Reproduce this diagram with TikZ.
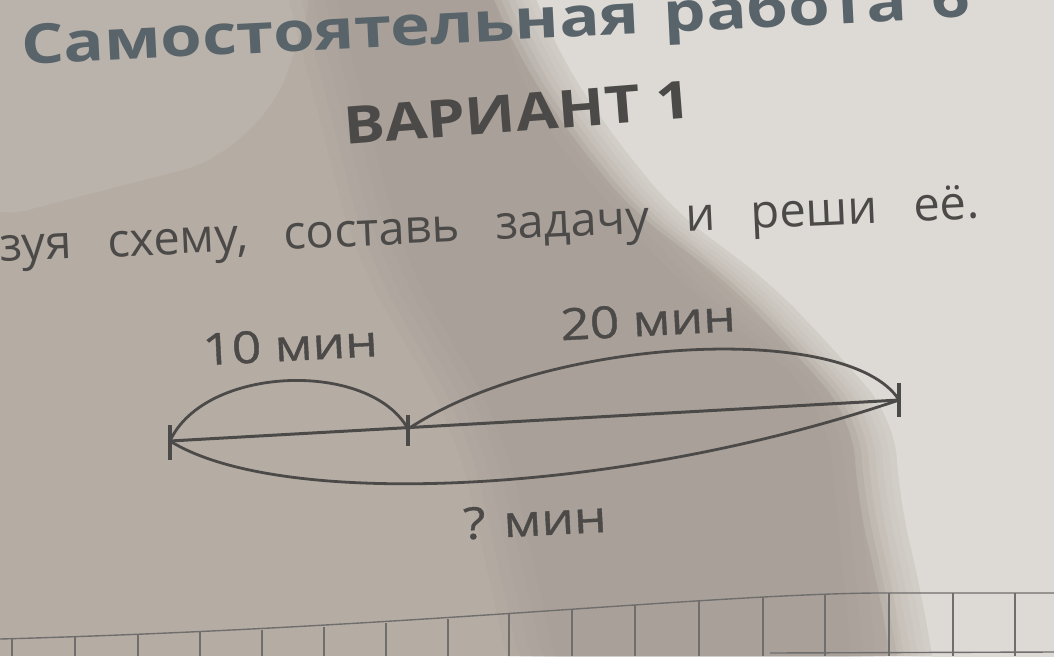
\documentclass[tikz,border=0pt]{standalone}
\usepackage{fontspec}
\setmainfont{Open Sans}
\newfontfamily\labelfont[FakeBold=0.8]{Open Sans}
\newcommand\widewords{\spaceskip=36pt plus 2pt\relax}
\newcommand\titlewords{\spaceskip=20pt plus 2pt\relax}
\newcommand\brightside{(515,-50) -- (560,55) -- (605,125) -- (672,209) -- (773,285) -- (840,356) -- (894,418) -- (900,502) -- (920,586) -- (940,700) -- (1100,700) -- (1100,-50) -- cycle}
\newcommand\shadeband{(300,-50) -- (500,-50) -- (560,120) -- (700,280) -- (850,400) -- (880,700) -- (540,700) -- (480,430) -- (380,260) -- cycle}
\usetikzlibrary{calc,positioning}
\definecolor{paperdark}{RGB}{181,173,164}
\definecolor{papershade}{RGB}{160,152,145}
\definecolor{paperlight}{RGB}{221,218,213}
\definecolor{ink}{RGB}{76,74,72}
\definecolor{titleink}{RGB}{88,99,106}
\tikzset{
	segline/.style={ink, line width=3pt, line cap=round},
	arcline/.style={ink, line width=2.8pt},
	tickline/.style={ink, line width=3.2pt},
	gridline/.style={ink!80, line width=1.4pt},
	minlabel/.style={ink, font=\labelfont\fontsize{44}{44}\selectfont, rotate=3, xscale=1.17},
}

\begin{document}
\begin{tikzpicture}[x=1pt,y=-1pt]
	\useasboundingbox (0,0) rectangle (1054,656);
	\clip (0,0) rectangle (1054,656);
	% paper, shadow and light
	\fill[paperdark] (0,0) rectangle (1054,656);
	\fill[white, opacity=0.08, rounded corners=80pt] (-50,-50) -- (330,-50) -- (260,150) -- (-50,230) -- cycle;
	\foreach \k in {0,...,4}
		\fill[papershade, opacity=0.12, rounded corners=60pt, xshift=\k*12pt-24pt] \shadeband;
	\foreach \k in {1,...,6}
		\fill[paperlight, opacity=0.2, rounded corners=40pt, xshift=-\k*7pt] \brightside;
	\fill[paperlight, rounded corners=40pt] \brightside;
	% headings
	\node[titleink, font=\bfseries\fontsize{55}{55}\selectfont\titlewords, anchor=base west, rotate=2.9, xscale=1.22, inner sep=0pt] (title) at (22,65) {Самостоятельная работа 6};
	\node[ink, font=\bfseries\fontsize{52}{52}\selectfont, anchor=base west, rotate=4.5, xscale=1.18, inner sep=0pt] (variant) at (345,145) {ВАРИАНТ 1};
	\node[ink, font=\fontsize{47}{47}\selectfont\widewords, anchor=base west, rotate=2.55, inner sep=0pt] (task) at (0,262) {зуя схему, составь задачу и реши её.};
	% scheme
	\coordinate (left) at (170,441);
	\coordinate (mid) at (408,429);
	\coordinate (right) at (899,400);
	\draw[segline] (left) -- (right);
	\draw[arcline] (left) .. controls (205,365) and (370,360) .. (mid);
	\draw[arcline] (mid) .. controls (550,335) and (850,322) .. (right);
	\draw[arcline] (left) .. controls (280,510) and (620,495) .. (right);
	\draw[tickline] ($(left)+(0,-16)$) -- ($(left)+(0,19)$);
	\draw[tickline] ($(mid)+(0,-14)$) -- ($(mid)+(0,17)$);
	\draw[tickline] ($(right)+(0,-17)$) -- ($(right)+(0,17)$);
	\node[minlabel] (ten) at (290,345) {10 мин};
	\node[minlabel] (twenty) at (648,320) {20 мин};
	\node[minlabel] (total) at (535,520) {? мин};
	% squared paper
	\draw[gridline] (0,639) .. controls (400,628) and (700,595) .. (874,593) -- (1054,593);
	\draw[gridline] (770,653) -- (1054,652);
	\foreach \gx/\gy in {12/638,75/636,138/634,200/632,262/630,324/627,386/623,448/619,509/614,572/609,635/605,699/600,763/597,825/594,889/593,953/593,1015/593}
		\draw[gridline] (\gx,\gy) -- (\gx,656);
\end{tikzpicture}
\end{document}
